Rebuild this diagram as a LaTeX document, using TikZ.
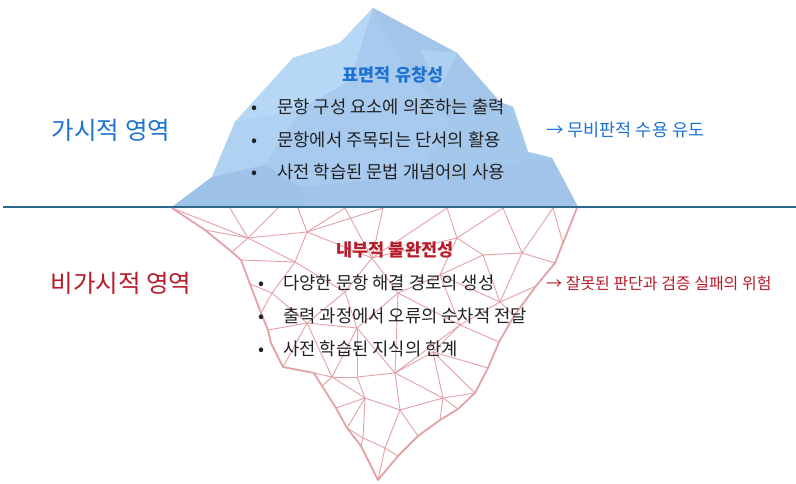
\documentclass[tikz,border=0pt]{standalone}
\usepackage{fontspec}
\setmainfont{Noto Sans CJK KR}
\usetikzlibrary{positioning}

\definecolor{iceMid}{HTML}{A8CAEE}
\definecolor{iceLight}{HTML}{B6D7F5}
\definecolor{iceDark}{HTML}{9FC2E8}
\definecolor{seaLine}{HTML}{2F6A8E}
\definecolor{meshRed}{HTML}{E3A2A6}
\definecolor{txtBlue}{HTML}{1E73D2}
\definecolor{txtRed}{HTML}{B71C2B}
\definecolor{txtBody}{HTML}{222222}

\newcommand\bulletmark[1]{\makebox[#1][l]{•}}

\begin{document}
\begin{tikzpicture}[
  x=1pt, y=-1pt,
  every node/.style={inner sep=0pt, text=txtBody},
  %% ─── styles ───────────────────────────────────────────────
  zone/.style={font=\fontsize{24.5}{28}\selectfont},
  head/.style={font=\fontsize{17.5}{20}\selectfont\bfseries},
  item/.style={anchor=west, font=\fontsize{17.7}{20}\selectfont},
  effect/.style={anchor=west, font=\fontsize{17.5}{20}\selectfont},
  meshline/.style={draw=meshRed, line width=0.9pt, line join=round},
  meshedge/.style={draw=meshRed, line width=1.8pt, line join=round},
  waterline/.style={draw=seaLine, line width=1.5pt}
]
  \useasboundingbox[fill=white] (0,0) rectangle (796,484);

  %% ─── 1. underwater wireframe ─────────────────────────────
  % outline
  \foreach \n/\p in {o1/{172,208}, o2/{205,230}, o3/{232,252}, o4/{241,260},
      o5/{250,284}, o6/{261,313}, o7/{268,330}, o8/{271,343}, o9/{283,367},
      o10/{314,373}, o11/{322,386}, o12/{336,408}, o13/{347,428}, o14/{361,446},
      o15/{378,480}, o16/{398,456}, o17/{418,436}, o18/{440,420}, o19/{458,409},
      o20/{475,393}, o21/{488,368}, o22/{499,342}, o23/{514,316}, o24/{536,286},
      o25/{555,263}, o26/{563,243}, o27/{577,208}}
    \coordinate (\n) at (\p);
  % points on the surface
  \foreach \n/\p in {t1/{230,208}, t2/{278,208}, t3/{298,208}, t4/{345,208},
      t5/{383,208}, t6/{447,208}, t7/{503,208}, t8/{553,208}}
    \coordinate (\n) at (\p);
  % inner vertices
  \foreach \n/\p in {a/{248,238}, b/{307,232}, c/{372,258}, d/{295,262},
      e/{272,293}, f/{345,292}, g/{398,293}, h/{457,238}, i/{483,255},
      j/{522,253}, k/{440,275}, m/{500,302}, n/{307,323}, p/{357,328},
      q/{460,325}, r/{395,373}, s/{433,352}, u/{365,398}, v/{400,410},
      w/{443,398}, xa/{332,377}, xb/{357,377}, z/{363,438}, zz/{385,448}}
    \coordinate (\n) at (\p);

  \foreach \a/\b in {o1/a, t1/a, t2/a, a/b, t3/b, t4/b, a/o3, a/d, b/d, d/o4,
      d/e, e/o5, e/o6, d/f, b/c, t4/c, t5/c, c/f, c/g, c/h, t6/h, h/t7,
      t7/j, t8/j, j/o25, h/i, i/j, i/k, g/k, k/m, i/m, j/m, m/o24, m/o23,
      m/q, k/q, g/q, g/p, f/p, f/n, e/n, n/o7, n/o9, n/p, n/xa, xa/p, p/xb,
      p/r, g/r, q/r, q/s, s/r, s/o21, q/o22, s/o20, s/w, r/w, r/xb, w/o19,
      w/o20, v/w, v/o17, v/u, u/xb, u/xa, xa/xb, xa/o10, xa/o11, u/o12,
      u/o13, u/z, z/o13, z/zz, zz/v, zz/o15, zz/o16, z/o14, w/o18, r/v,
      o2/a, t5/b, t6/c, t8/o26, k/h}
    \draw[meshline] (\a) -- (\b);

  \draw[meshedge] (o1) \foreach \k in {2,...,27} { -- (o\k) };

  %% ─── 2. visible ice above the surface ───────────────────
  \fill[iceMid] (172,207) -- (212,177) -- (235,122) -- (293,58) -- (340,43)
    -- (373,8) -- (457,53) -- (500,102) -- (513,107) -- (528,152)
    -- (552,158) -- (578,207) -- cycle;
  \fill[iceLight] (235,122) -- (293,58) -- (340,43) -- (373,8) -- (350,80)
    -- (300,110) -- cycle;
  \fill[iceLight!60!iceMid] (212,177) -- (235,122) -- (300,110) -- (265,165) -- cycle;
  \fill[iceDark!60!iceMid] (373,8) -- (457,53) -- (500,102) -- (450,120) -- (400,60) -- cycle;
  \fill[iceLight!50!iceMid] (457,53) -- (420,50) -- (440,90) -- cycle;
  \fill[iceDark] (172,207) -- (212,177) -- (265,165) -- (300,187) -- (307,207) -- cycle;
  \fill[iceDark!70!iceMid] (307,207) -- (300,187) -- (420,175) -- (552,158)
    -- (578,207) -- cycle;
  \fill[iceDark!40!iceMid] (450,120) -- (500,102) -- (513,107) -- (528,152)
    -- (552,158) -- (420,175) -- cycle;

  %% ─── 3. surface line ─────────────────────────────────────
  \coordinate (seaL) at (3,207);
  \coordinate (seaR) at (796,207);
  \draw[waterline] (seaL) -- (seaR);

  %% ─── 4. labels ───────────────────────────────────────────
  \node[zone, text=txtBlue] (visible) at (111,130) {가시적 영역};
  \node[zone, text=txtRed] (hidden) at (121,283) {비가시적 영역};

  \node[head, text=txtBlue] (surface) at (393,75) {표면적 유창성};
  \node[item] (s1) at (251,107) {\bulletmark{26pt}문항 구성 요소에 의존하는 출력};
  \node[item, below=33pt of s1.west, anchor=west] (s2) {\bulletmark{26pt}문항에서 주목되는 단서의 활용};
  \node[item, below=32pt of s2.west, anchor=west] (s3) {\bulletmark{26pt}사전 학습된 문법 개념어의 사용};

  \node[head, text=txtRed] (inner) at (395,250) {내부적 불완전성};
  \node[item] (u1) at (258,283) {\bulletmark{25pt}다양한 문항 해결 경로의 생성};
  \node[item, below=33pt of u1.west, anchor=west] (u2) {\bulletmark{25pt}출력 과정에서 오류의 순차적 전달};
  \node[item, below=33pt of u2.west, anchor=west] (u3) {\bulletmark{25pt}사전 학습된 지식의 한계};

  \node[effect, text=txtBlue] (risk1) at (546,130) {→ 무비판적 수용 유도};
  \node[effect, text=txtRed, font=\fontsize{16}{19}\selectfont] (risk2) at (546,283) {→ 잘못된 판단과 검증 실패의 위험};

\end{tikzpicture}
\end{document}
